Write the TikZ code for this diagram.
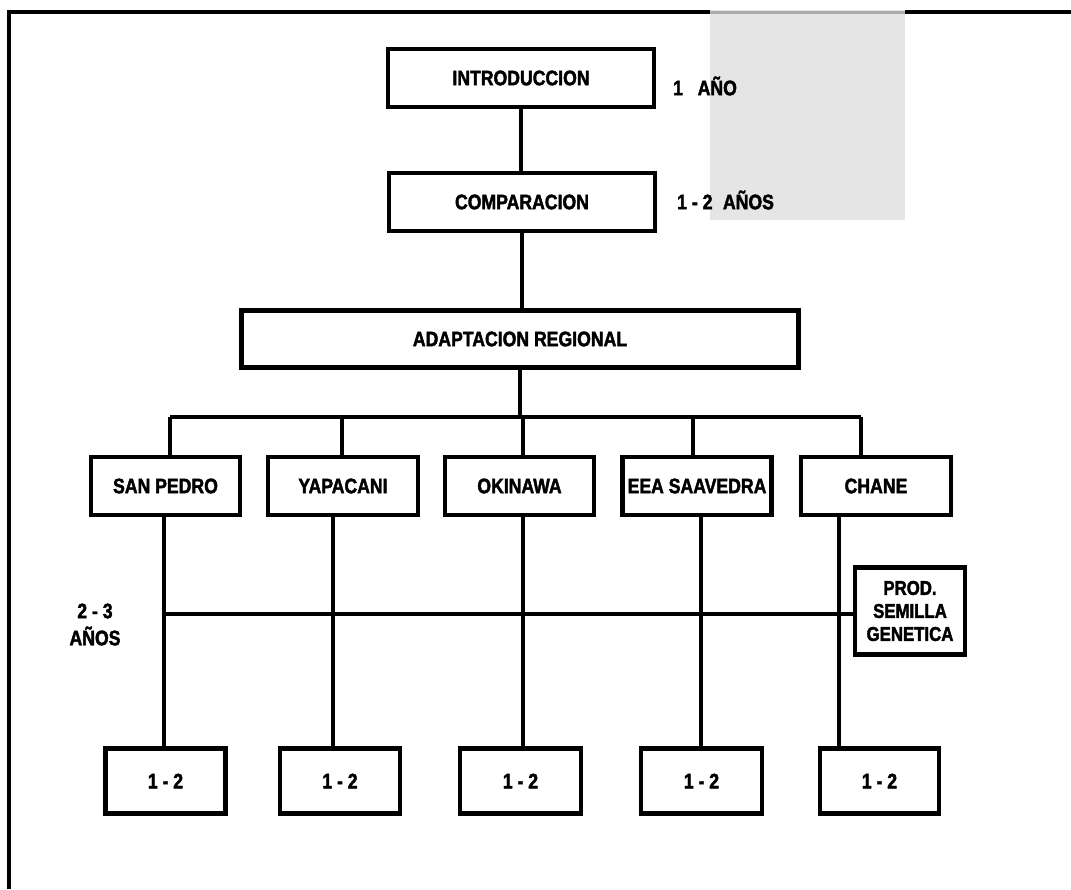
\documentclass[tikz,border=0pt]{standalone}
\usepackage{fontspec}
\newfontfamily\lbl{Liberation Sans Bold}[FakeStretch=0.84,FakeBold=2]
\begin{document}
\begin{tikzpicture}[x=1pt,y=-1pt,
  box/.style={draw=black,line width=4.5pt,fill=white,inner sep=0pt,align=center,
    font=\lbl\fontsize{21}{23}\selectfont},
  lab/.style={inner sep=0pt,font=\lbl\fontsize{21}{23}\selectfont},
  conn/.style={line width=3.2pt}]
\useasboundingbox[fill=white] (0,0) rectangle (1071,889);
% frame
\draw[line width=4.5pt] (9,889) -- (9,12) -- (1071,12);
% blurred gray patch
\fill[gray!20] (710,10) rectangle (905,220);
\draw[gray!65,line width=3pt] (710,12) -- (905,12);
% boxes
\node[box,minimum width=266pt,minimum height=58pt] (intro) at (521,78) {INTRODUCCION};
\node[box,minimum width=266pt,minimum height=58pt] (comp) at (522,202) {COMPARACION};
\node[box,minimum width=557pt,minimum height=57pt] (adapt) at (520,339) {ADAPTACION REGIONAL};
\node[box,minimum width=149pt,minimum height=58pt] (sp) at (165.5,486) {SAN PEDRO};
\node[box,minimum width=150pt,minimum height=58pt] (yap) at (343,486) {YAPACANI};
\node[box,minimum width=149pt,minimum height=58pt] (oki) at (519.5,486) {OKINAWA};
\node[box,minimum width=149pt,minimum height=58pt] (eea) at (697,486) {EEA SAAVEDRA};
\node[box,minimum width=150pt,minimum height=58pt] (chane) at (876,486) {CHANE};
\node[box,minimum width=110pt,minimum height=87pt,font=\lbl\fontsize{20}{23}\selectfont] (prod) at (910,611) {PROD.\\SEMILLA\\GENETICA};
\node[box,minimum width=120pt,minimum height=65pt] (b1) at (165.5,781) {1 - 2};
\node[box,minimum width=120pt,minimum height=65pt] (b2) at (340,781) {1 - 2};
\node[box,minimum width=121pt,minimum height=65pt] (b3) at (520.5,781) {1 - 2};
\node[box,minimum width=121pt,minimum height=65pt] (b4) at (701.5,781) {1 - 2};
\node[box,minimum width=119pt,minimum height=65pt] (b5) at (879.5,781) {1 - 2};
% labels
\node[lab,anchor=west] (l1) at (673,86) {1\hspace{0.7em}AÑO};
\node[lab,anchor=west] (l2) at (677,200) {1 - 2\hspace{0.5em}AÑOS};
\node[lab] (l3) at (95,611) {2 - 3};
\node[lab] (l4) at (95,636) {AÑOS};
% connectors
\coordinate (barL) at (170,417);
\coordinate (barR) at (861,417);
\coordinate (hL) at (164,614);
\draw[conn] (intro.south) -- (intro.south |- comp.north);
\draw[conn] (comp.south) -- (comp.south |- adapt.north);
\draw[conn] (adapt.south) -- (adapt.south |- barL);
\draw[conn] (barL) -- (barR);
\draw[conn] (barL) -- (barL |- sp.north);
\draw[conn] (342,417) coordinate (v2) -- (v2 |- yap.north);
\draw[conn] (523,417) coordinate (v3) -- (v3 |- oki.north);
\draw[conn] (693,417) coordinate (v4) -- (v4 |- eea.north);
\draw[conn] (barR) -- (barR |- chane.north);
\draw[conn] (164,516) coordinate (d1) -- (d1 |- b1.north);
\draw[conn] (333,516) coordinate (d2) -- (d2 |- b2.north);
\draw[conn] (523,516) coordinate (d3) -- (d3 |- b3.north);
\draw[conn] (701,516) coordinate (d4) -- (d4 |- b4.north);
\draw[conn] (839,516) coordinate (d5) -- (d5 |- b5.north);
\draw[conn] (hL) -- (hL -| prod.west);
\end{tikzpicture}
\end{document}
